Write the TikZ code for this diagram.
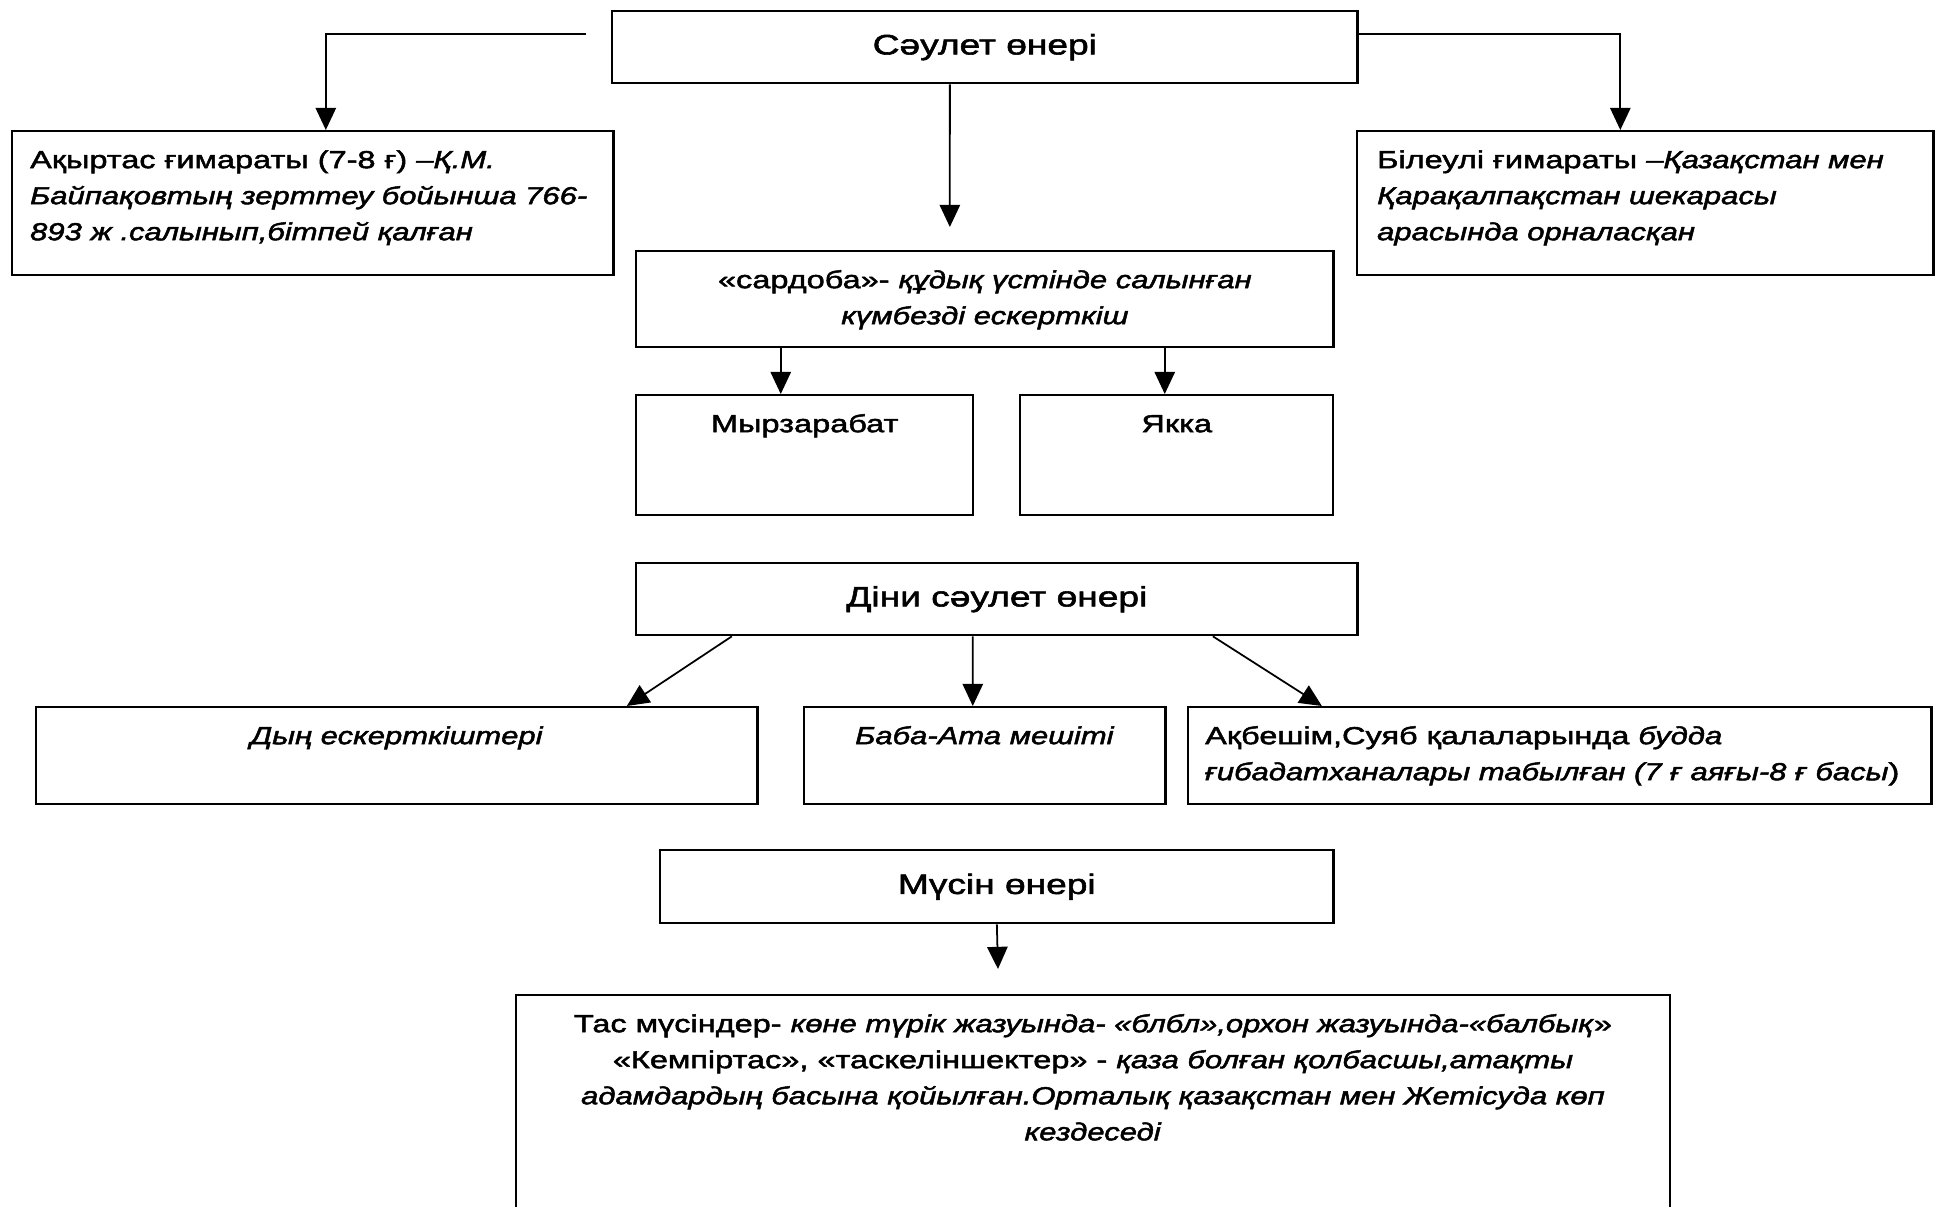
\documentclass[tikz,border=0pt]{standalone}
\usepackage{fontspec}
\setmainfont{Liberation Sans}[FakeBold=2,UprightFeatures={FakeStretch=1.32},ItalicFeatures={FakeStretch=1.26}]
\usetikzlibrary{arrows.meta,calc}
\newcommand{\bodyfont}{\fontsize{7}{10.25}\selectfont}
\newcommand{\headfont}{\fontsize{8}{10}\selectfont}
\newcommand{\tbox}[4]{\parbox[t][#2][t]{#1}{#3\rule{0pt}{.37cm}#4}}

\begin{document}
\begin{tikzpicture}[x=0.01cm,y=-0.01cm,line width=.5pt,
          >={Triangle[length=6.3pt,width=5.8pt]},
          blok/.style={draw,line width=.65pt,inner sep=0pt,anchor=north west,font=\bodyfont},
          head/.style={blok,font=\headfont}]
          \useasboundingbox(0,0)rectangle(1937,1207);
          \clip(0,0)rectangle(1937,1207);
          \fill[white](0,0)rectangle(1937,1207);
          % Сәулет өнері
          \node[head,minimum width=7.45cm,minimum height=.72cm](saulet)at(611,10){Сәулет өнері};
          \node[blok,inner xsep=.18cm](akyrtas)at(11,130){\tbox{5.65cm}{1.44cm}{\raggedright}{Ақыртас ғимараты (7-8 ғ) \textit{–Қ.М.}\\
             \textit{Байпақовтың зерттеу бойынша 766-}\\\textit{893 ж .салынып,бітпей қалған}}};
          \node[blok,inner xsep=.2cm](bileuli)at(1356,130){\tbox{5.36cm}{1.44cm}{\raggedright}{Білеулі ғимараты \textit{–Қазақстан мен}\\
             \textit{Қарақалпақстан шекарасы}\\\textit{арасында орналасқан}}};
          \node[blok](sardoba)at(635,250){\tbox{6.97cm}{.96cm}{\centering}{«сардоба»- \textit{құдық үстінде салынған}\\
             \textit{күмбезді ескерткіш}}};
          \node[blok](myrza)at(635,394){\tbox{3.37cm}{1.2cm}{\centering}{Мырзарабат}};
          \node[blok](yakka)at(1019,394){\tbox{3.13cm}{1.2cm}{\centering}{Якка}};
          \draw[->]($(saulet.west)+(-25,-13)$)-|($(akyrtas.north)+(13,0)$);
          \draw[->]($(saulet.east)+(0,-13)$)-|($(bileuli.north)+(-25,0)$);
          \draw[->]($(saulet.south)+(-35,0)$)--($(sardoba.north)+(-35,-23)$);
          \path($(myrza.north)+(-24,0)$)coordinate(m1)($(yakka.north)+(-12,0)$)coordinate(m2);
          \draw[->](m1|-sardoba.south)--(m1);
          \draw[->](m2|-sardoba.south)--(m2);
          % Діни сәулет өнері
          \node[head,minimum width=7.21cm,minimum height=.72cm](dini)at(635,562){Діни сәулет өнері};
          \node[blok](dyn)at(35,706){\tbox{7.21cm}{.97cm}{\centering}{\textit{Дың ескерткіштері}}};
          \node[blok](baba)at(803,706){\tbox{3.61cm}{.97cm}{\centering}{\textit{Баба-Ата мешіті}}};
          \node[blok,inner xsep=.17cm](akbeshim)at(1187,706){\tbox{7.09cm}{.97cm}{\raggedright}{Ақбешім,Суяб қалаларында \textit{будда}\\
             \textit{ғибадатханалары табылған (7 ғ аяғы-8 ғ басы})}};
          \draw[->]($(dini.south)+(-265,0)$)--($(dyn.north)+(230,0)$);
          \draw[->]($(dini.south)+(-24,0)$)--($(baba.north)+(-12,0)$);
          \draw[->]($(dini.south)+(216,0)$)--($(akbeshim.north)+(-238,0)$);
          % Мүсін өнері
          \node[head,minimum width=6.73cm,minimum height=.73cm](musin)at(659,849){Мүсін өнері};
          \node[blok](tas)at(515,994){\tbox{11.53cm}{2.4cm}{\centering}{Тас мүсіндер- \textit{көне түрік жазуында- «блбл»,орхон жазуында-«балбық}»\\
             «Кемпіртас», «таскеліншектер» - \textit{қаза болған қолбасшы,атақты}\\
             \textit{адамдардың басына қойылған.Орталық қазақстан мен Жетісуда көп}\\\textit{кездеседі}}};
          \draw[->](musin.south)--($(tas.north)+(-95,-25)$);
        \end{tikzpicture}
\end{document}
